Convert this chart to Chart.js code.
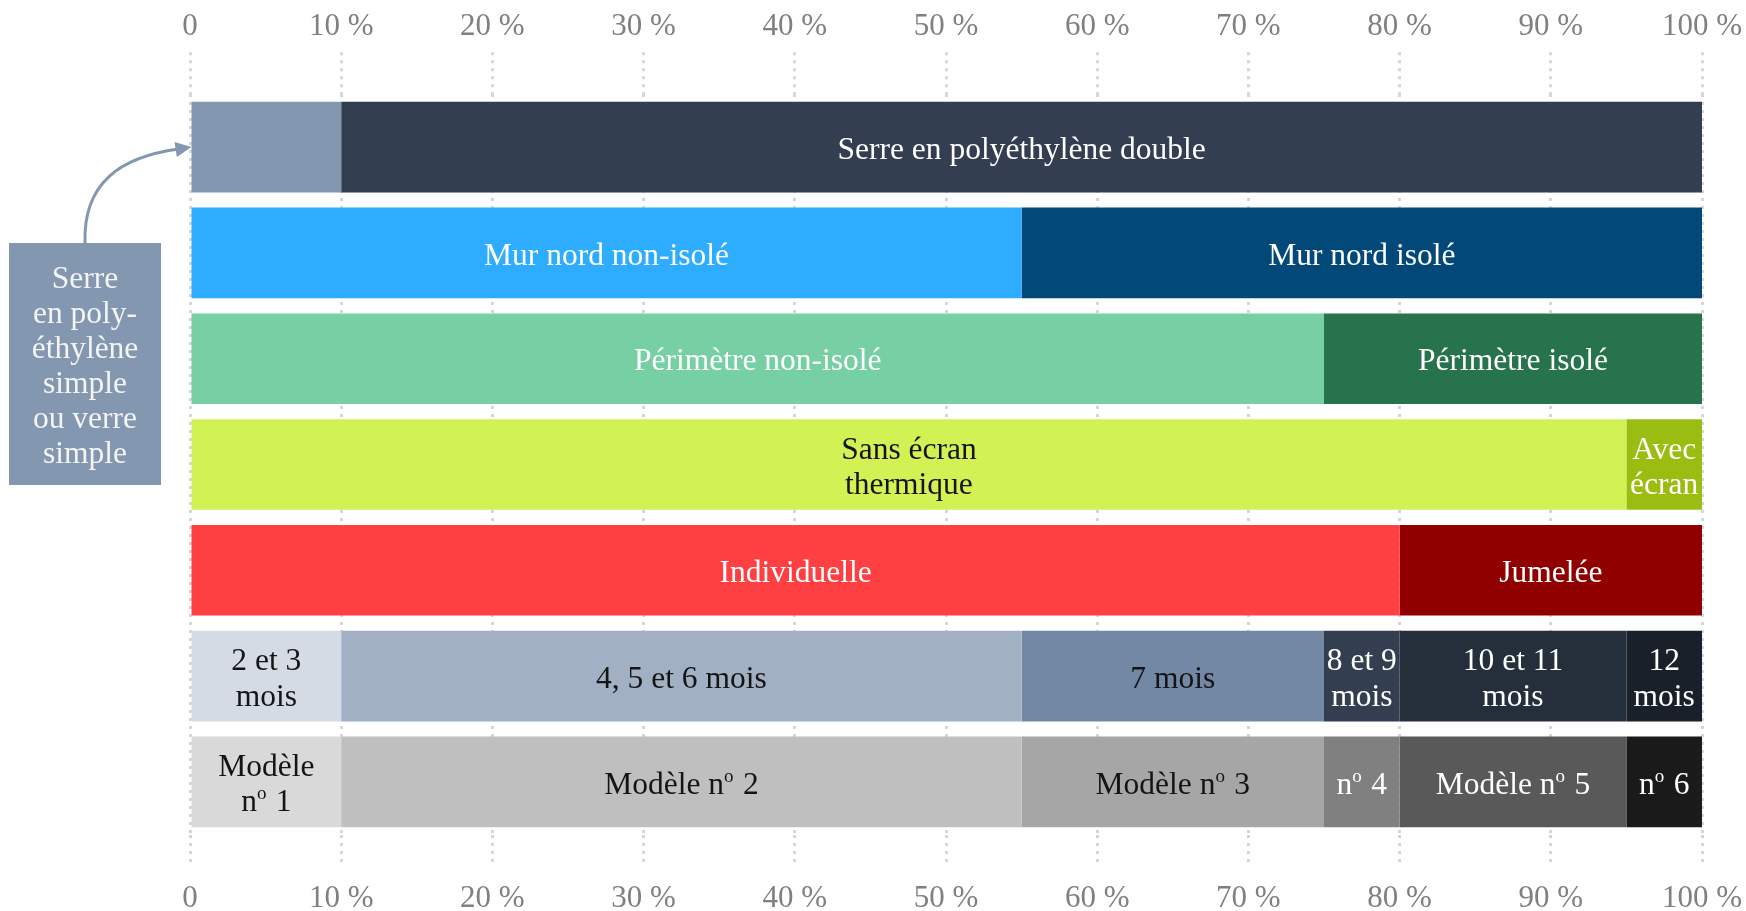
<!DOCTYPE html>
<html><head><meta charset="utf-8">
<script src="https://cdn.jsdelivr.net/npm/chart.js@4.4.1/dist/chart.umd.min.js"></script>
<style>html,body{margin:0;padding:0;background:#fff;} #wrap{position:relative;width:1746px;height:911px;}</style>
</head><body><div id="wrap"><canvas id="c" width="1746" height="911"></canvas></div>
<script>
// ---- data ----
const categories = ['Enveloppe', 'Mur nord', 'Périmètre', 'Écran thermique', 'Implantation', 'Saison', 'Modèle'];
const tickValues = [0, 10, 20, 30, 40, 50, 60, 70, 80, 90, 100];

const seg1 = [10, 55, 75, 95, 80, 10, 10];
const seg2 = [90, 45, 25, 5, 20, 45, 45];
const seg3 = [0, 0, 0, 0, 0, 20, 20];
const seg4 = [0, 0, 0, 0, 0, 5, 5];
const seg5 = [0, 0, 0, 0, 0, 15, 15];
const seg6 = [0, 0, 0, 0, 0, 5, 5];

const seg1Labels = ['Serre\nen poly-\néthylène\nsimple\nou verre\nsimple', 'Mur nord non-isolé', 'Périmètre non-isolé', 'Sans écran\nthermique', 'Individuelle', '2 et 3\nmois', 'Modèle\nnº 1'];
const seg2Labels = ['Serre en polyéthylène double', 'Mur nord isolé', 'Périmètre isolé', 'Avec\nécran', 'Jumelée', '4, 5 et 6 mois', 'Modèle nº 2'];
const seg3Labels = ['', '', '', '', '', '7 mois', 'Modèle nº 3'];
const seg4Labels = ['', '', '', '', '', '8 et 9\nmois', 'nº 4'];
const seg5Labels = ['', '', '', '', '', '10 et 11\nmois', 'Modèle nº 5'];
const seg6Labels = ['', '', '', '', '', '12\nmois', 'nº 6'];

// ---- styles ----
const seg1Colors = ['#8497B0', '#2EACFF', '#76D0A4', '#D2F154', '#FF4043', '#D4DBE5', '#D9D9D9'];
const seg2Colors = ['#333F50', '#02497A', '#27734D', '#9BBD11', '#900000', '#A2B0C4', '#BFBFBF'];
const seg3Colors = ['#000', '#000', '#000', '#000', '#000', '#7388A5', '#A6A6A6'];
const seg4Colors = ['#000', '#000', '#000', '#000', '#000', '#333F50', '#808080'];
const seg5Colors = ['#000', '#000', '#000', '#000', '#000', '#252E3B', '#595959'];
const seg6Colors = ['#000', '#000', '#000', '#000', '#000', '#1A2029', '#1A1A1A'];
const DARK = '#141414', LIGHT = '#FFFFFF';
const seg1Text = [LIGHT, LIGHT, LIGHT, DARK, LIGHT, DARK, DARK];
const seg2Text = [LIGHT, LIGHT, LIGHT, LIGHT, LIGHT, DARK, DARK];
const seg3Text = [LIGHT, LIGHT, LIGHT, LIGHT, LIGHT, DARK, DARK];
const seg4Text = [LIGHT, LIGHT, LIGHT, LIGHT, LIGHT, LIGHT, LIGHT];
const seg5Text = [LIGHT, LIGHT, LIGHT, LIGHT, LIGHT, LIGHT, LIGHT];
const seg6Text = [LIGHT, LIGHT, LIGHT, LIGHT, LIGHT, LIGHT, LIGHT];

const FAMILY = '"Liberation Serif", "DejaVu Serif", serif';
const LABEL_SIZE = 31.5, LINE_H = 35.5;
const CALLOUT_COLOR = '#8497B0';

const segValues = [seg1, seg2, seg3, seg4, seg5, seg6];
const segLabels = [seg1Labels, seg2Labels, seg3Labels, seg4Labels, seg5Labels, seg6Labels];
const segColors = [seg1Colors, seg2Colors, seg3Colors, seg4Colors, seg5Colors, seg6Colors];
const segText = [seg1Text, seg2Text, seg3Text, seg4Text, seg5Text, seg6Text];

function richLine(ctx, text, cx, y, size) {
  const font = size + 'px ' + FAMILY;
  const small = Math.round(size * 0.6) + 'px ' + FAMILY;
  const parts = text.split('º');
  const pieces = []; let total = 0;
  parts.forEach((p, i) => {
    ctx.font = font; const w = ctx.measureText(p).width;
    pieces.push({t: p, f: font, w: w, dy: 0}); total += w;
    if (i < parts.length - 1) {
      ctx.font = small; const w2 = ctx.measureText('o').width + 1.5;
      pieces.push({t: 'o', f: small, w: w2, dy: -size * 0.28}); total += w2;
    }
  });
  let x = cx - total / 2;
  ctx.textAlign = 'left';
  pieces.forEach(p => { ctx.font = p.f; ctx.fillText(p.t, x, y + p.dy); x += p.w; });
}

function drawBlock(ctx, text, cx, cy, color) {
  const lines = text.split('\n');
  ctx.fillStyle = color;
  ctx.textBaseline = 'middle';
  const y0 = cy - (lines.length - 1) * LINE_H / 2 + 3.5;
  lines.forEach((l, i) => richLine(ctx, l, cx, y0 + i * LINE_H, LABEL_SIZE));
}

const labelPlugin = {
  id: 'segLabels',
  afterDatasetsDraw(chart) {
    const ctx = chart.ctx;
    ctx.save();
    chart.data.datasets.forEach((ds, d) => {
      const meta = chart.getDatasetMeta(d);
      meta.data.forEach((el, i) => {
        if (!segValues[d][i]) return;
        if (d === 0 && i === 0) return; // shown in callout
        const txt = segLabels[d][i];
        if (!txt) return;
        drawBlock(ctx, txt, (el.x + el.base) / 2, el.y, segText[d][i]);
      });
    });
    ctx.restore();
  },
  afterDraw(chart) {
    const ctx = chart.ctx;
    const el = chart.getDatasetMeta(0).data[0];
    // callout box
    const bx = 9, by = 243, bw = 152, bh = 242;
    ctx.save();
    ctx.fillStyle = CALLOUT_COLOR;
    ctx.fillRect(bx, by, bw, bh);
    ctx.fillStyle = '#F4F4F4';
    ctx.textBaseline = 'alphabetic';
    const lines = seg1Labels[0].split('\n');
    lines.forEach((l, i) => richLine(ctx, l, bx + bw / 2, 288 + i * 35, LABEL_SIZE));
    // arrow
    const tipX = el.base, tipY = el.y;
    const sx = bx + bw / 2, sy = by;
    const ex = tipX - 13, ey = tipY + 2;
    ctx.strokeStyle = CALLOUT_COLOR;
    ctx.lineWidth = 3;
    ctx.beginPath();
    ctx.moveTo(sx, sy);
    ctx.bezierCurveTo(sx - 2, sy - 60, sx + 35, ey + 8, ex, ey);
    ctx.stroke();
    const ang = Math.atan2(tipY - (ey + 1.5), tipX - (ex - 10));
    ctx.fillStyle = CALLOUT_COLOR;
    ctx.beginPath();
    ctx.moveTo(tipX, tipY);
    ctx.lineTo(tipX - 16 * Math.cos(ang) - 7.5 * Math.sin(ang), tipY - 16 * Math.sin(ang) + 7.5 * Math.cos(ang));
    ctx.lineTo(tipX - 16 * Math.cos(ang) + 7.5 * Math.sin(ang), tipY - 16 * Math.sin(ang) - 7.5 * Math.cos(ang));
    ctx.closePath();
    ctx.fill();
    ctx.restore();
  }
};

const tickCb = v => (v === 0 ? '0' : v + '\u00a0%');
const tickFont = {family: FAMILY, size: 31};
const GRID = '#D6D6D6';
const noSidePad = s => { s.paddingLeft = 0; s.paddingRight = 0; };

new Chart(document.getElementById('c'), {
  type: 'bar',
  data: {
    labels: categories,
    datasets: segValues.map((vals, d) => ({
      label: 'Segment ' + (d + 1),
      data: vals,
      backgroundColor: segColors[d],
      borderWidth: 0,
      categoryPercentage: 1,
      barPercentage: 0.856
    }))
  },
  options: {
    indexAxis: 'y',
    responsive: false,
    animation: false,
    layout: {padding: {left: 190, right: 44, top: 1, bottom: -19}},
    plugins: {legend: {display: false}, tooltip: {enabled: false}},
    scales: {
      y: {stacked: true, display: false},
      x: {
        position: 'top', stacked: true, min: 0, max: 100,
        afterBuildTicks: s => { s.ticks = tickValues.map(v => ({value: v})); },
        afterFit: noSidePad,
        ticks: {callback: tickCb, color: '#808080', font: tickFont, padding: 7, maxRotation: 0, autoSkip: false},
        grid: {color: GRID, lineWidth: 3, tickLength: 42, tickColor: GRID, tickWidth: 3, tickBorderDash: [3, 5]},
        border: {display: false, dash: [3, 5]}
      },
      x2: {
        type: 'linear', axis: 'x', position: 'bottom', min: 0, max: 100,
        afterBuildTicks: s => { s.ticks = tickValues.map(v => ({value: v})); },
        afterFit: noSidePad,
        ticks: {callback: tickCb, color: '#808080', font: tickFont, padding: 13, maxRotation: 0, autoSkip: false},
        grid: {drawOnChartArea: false, tickLength: 32, tickColor: GRID, tickWidth: 3, tickBorderDash: [3, 5], color: GRID, lineWidth: 3},
        border: {display: false}
      }
    }
  },
  plugins: [labelPlugin]
});
</script>
</body></html>
